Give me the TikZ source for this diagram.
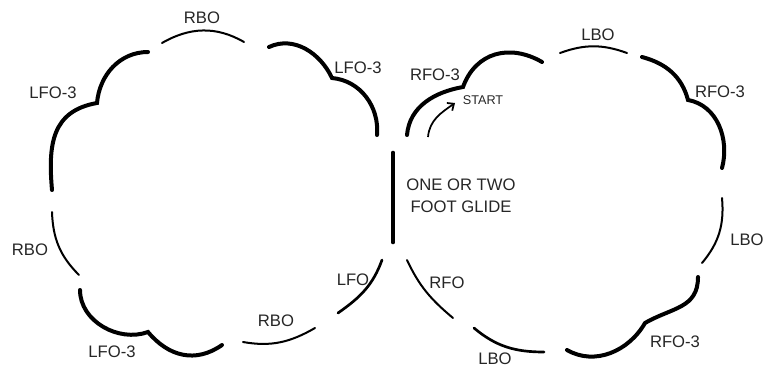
\documentclass[tikz,border=0pt]{standalone}
\usepackage{fontspec}
\setmainfont{Liberation Sans}
\usetikzlibrary{arrows.meta}

\tikzset{
  heavy/.style={line width=3pt, line cap=round},
  mid/.style={line width=2pt, line cap=round},
  light/.style={line width=1.5pt, line cap=round},
  lbl/.style={font=\fontsize{12.5}{16.5}\selectfont, text=black!85, inner sep=0pt},
  small/.style={font=\fontsize{9.5}{11}\selectfont, text=black!85, inner sep=0pt},
  pointer/.style={line width=1.3pt, -{Straight Barb[length=4pt,width=7pt]}},
}

\begin{document}
\begin{tikzpicture}[x=0.75pt, y=0.75pt]
	\useasboundingbox (0,0) rectangle (766,369); %

	% left circle
	\draw[heavy] (148,317) to[out=180,in=85] (97,266) to[out=190,in=95,looseness=1.2] (52,179); %
	\draw[light] (162,326) to[out=30,in=150] (244,327); %
	\draw[heavy] (269,322) to[out=25,in=115] (332,291) to[out=-5,in=85] (377,234); %
	\draw[light] (52,157) to[out=-88,in=135] (79,94); %
	\draw[heavy] (80,79) to[out=-90,in=200] (148,37) to[out=-50,in=215,looseness=1.1] (222,24); %
	\draw[light] (243,27) to[out=-10,in=210] (315,41); %
	\draw[mid] (338,56) to[out=35,in=250] (382,109); %

	% glide
	\draw[heavy, line width=3.5pt] (393,216) -- (393,127); %

	% right circle
	\draw[heavy] (407,234) to[out=85,in=190] (463,282) to[out=70,in=150,looseness=1.15] (542,307); %
	\draw[light] (560,316) to[out=20,in=160] (627,316); %
	\draw[heavy] (642,312) to[out=-15,in=105] (688,269) to[out=-10,in=75] (722,201); %
	\draw[light] (722,171) to[out=-85,in=50] (702,106); %
	\draw[heavy] (698,92) to[out=-90,in=30,looseness=1.15] (645,46) to[out=240,in=-30] (567,19); %
	\draw[mid] (474,41) to[out=-40,in=180] (544,17); %
	\draw[light] (407,109) to[out=-65,in=140] (453,51); %

	\coordinate (s0) at (428,232); %
	\coordinate (s1) at (455,266); %
	\draw[pointer] (s0) to[out=85,in=215] (s1); %

	% labels
	\node[lbl] (rbotop) at (202,351) {RBO}; %
	\node[lbl] (lfoa) at (53,276) {LFO-3}; %
	\node[lbl] (lfob) at (358,301) {LFO-3}; %
	\node[lbl] (rboleft) at (30,119) {RBO}; %
	\node[lbl] (lfoc) at (112,17) {LFO-3}; %
	\node[lbl] (rbobot) at (276,48) {RBO}; %
	\node[lbl] (lfo) at (353,89) {LFO}; %
	\node[lbl, align=center] (glide) at (461,173) {ONE OR TWO\\FOOT GLIDE}; %
	\node[lbl] (rfoa) at (435,294) {RFO-3}; %
	\node[small] (start) at (483,269) {START}; %
	\node[lbl] (lbotop) at (598,334) {LBO}; %
	\node[lbl] (rfob) at (720,277) {RFO-3}; %
	\node[lbl] (lboright) at (747,129) {LBO}; %
	\node[lbl] (rfoc) at (675,27) {RFO-3}; %
	\node[lbl] (lbobot) at (495,10) {LBO}; %
	\node[lbl] (rfo) at (447,86) {RFO}; %
\end{tikzpicture}
\end{document}
